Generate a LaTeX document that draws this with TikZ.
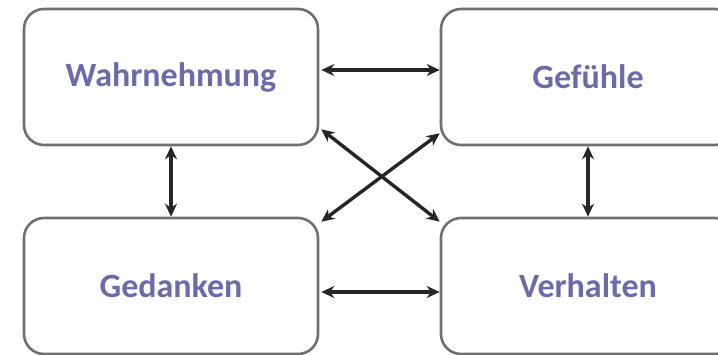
\documentclass[tikz,border=0pt]{standalone}
\usepackage{fontspec}
\setmainfont{Carlito}
\usetikzlibrary{arrows.meta}
\definecolor{boxtext}{RGB}{108,106,168}
\definecolor{boxline}{RGB}{112,112,112}
\begin{document}
\begin{tikzpicture}[x=1pt,y=1pt,
  box/.style={draw=boxline, line width=2.6pt, rounded corners=20pt, fill=white,
    minimum width=294pt, minimum height=136pt, inner sep=0pt,
    font=\fontsize{34}{40}\selectfont\bfseries, text=boxtext},
  link/.style={{Stealth[length=13pt,width=12pt]}-{Stealth[length=13pt,width=12pt]}, line width=3.4pt, black!85}]
\useasboundingbox[fill=white] (0,0) rectangle (718,-355);
\node[box] (wahr) at (171,-77) {\raisebox{-3pt}{Wahrnehmung}};
\node[box] (gef) at (588,-77) {\raisebox{-3pt}{Gefühle}};
\node[box] (ged) at (171,-286) {\raisebox{-3pt}{Gedanken}};
\node[box] (verh) at (588,-286) {\raisebox{-3pt}{Verhalten}};
\draw[link] ([yshift=7pt,xshift=2pt]wahr.east) -- ([yshift=7pt]gef.west);
\draw[link] ([yshift=-6pt,xshift=2pt]ged.east) -- ([yshift=-6pt]verh.west);
\draw[link] (wahr.south) -- (ged.north);
\draw[link] (gef.south) -- (verh.north);
\draw[link] ([xshift=2pt,yshift=17pt]wahr.south east) -- ([yshift=-5pt]verh.north west);
\draw[link] ([xshift=2pt,yshift=-5pt]ged.north east) -- ([yshift=13pt]gef.south west);
\end{tikzpicture}
\end{document}
